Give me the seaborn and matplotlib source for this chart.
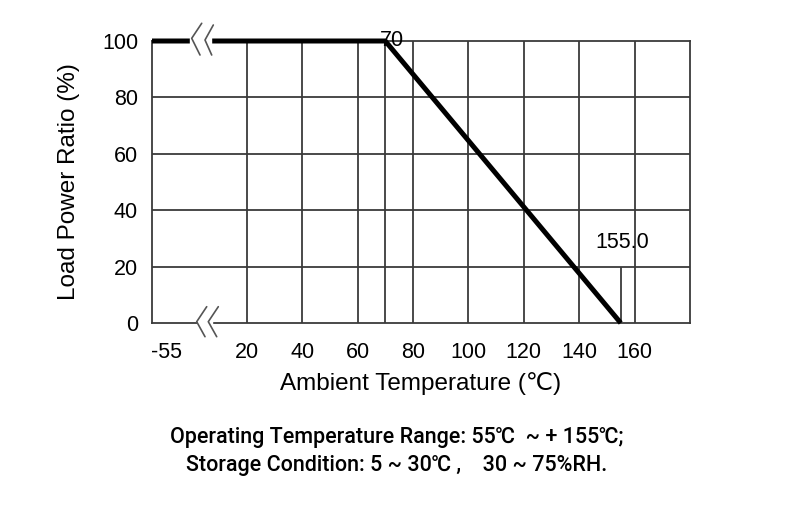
import numpy as np
import pandas as pd
import matplotlib.pyplot as plt
import matplotlib.transforms as mtransforms
import seaborn as sns
from matplotlib.lines import Line2D
from matplotlib.patches import Rectangle

# derating curve
temps = [-55, 70, 155]
ratio = [100, 100, 0]
x_ticks = [20, 40, 60, 80, 100, 120, 140, 160]
x_grid = [20, 40, 60, 70, 80, 100, 120, 140, 160]
y_ticks = [0, 20, 40, 60, 80, 100]
note_lines = ["Operating Temperature Range: 55\u2103  ~ + 155\u2103;",
              "Storage Condition: 5 ~ 30\u2103 ,    30 ~ 75%RH."]

sns.set_style("white")
plt.rcParams['font.family'] = ['Liberation Sans', 'DejaVu Sans']
plt.rcParams['text.color'] = 'black'
plt.rcParams['axes.labelcolor'] = 'black'

W, H = 794, 520
fig = plt.figure(figsize=(W / 100, H / 100), dpi=100)
ax = fig.add_axes([152 / W, 1 - 323 / H, (690 - 152) / W, (323 - 41) / H])

xmin, xmax = -14.2, 180


def pos(t):
    # broken axis: everything below 20 is squeezed to the left edge
    return t if t >= 20 else xmin


grid_c = '#3a3a3a'
df = pd.DataFrame({'pos': [pos(t) for t in temps], 'ratio': ratio})

for g in x_grid:
    ax.axvline(g, color=grid_c, lw=1.3, zorder=1)
for g in y_ticks[1:-1]:
    ax.axhline(g, color=grid_c, lw=1.3, zorder=1)
ax.vlines(155, 0, 20, color=grid_c, lw=1.3, zorder=1)

sns.lineplot(data=df, x='pos', y='ratio', color='black', lw=3.6, ax=ax,
             zorder=3, clip_on=False, solid_capstyle='butt')

ax.set_xlim(xmin, xmax)
ax.set_ylim(0, 100)
for s in ax.spines.values():
    s.set_color(grid_c)
    s.set_linewidth(1.3)

ax.set_xticks([xmin] + x_ticks)
ax.set_xticklabels(['-55'] + [str(v) for v in x_ticks])
ax.set_yticks(y_ticks)
ax.set_yticklabels([str(v) for v in y_ticks])
ax.tick_params(axis='both', length=0, labelsize=15.5, colors='black')
ax.tick_params(axis='x', pad=14)
ax.tick_params(axis='y', pad=10)
# shift the -55 label right
lab = ax.get_xticklabels()[0]
lab.set_transform(lab.get_transform() + mtransforms.ScaledTranslation(14 / 100, 0, fig.dpi_scale_trans))

ax.set_xlabel('Ambient Temperature (\u2103)', fontsize=17.5, labelpad=6, color='black')
ax.set_ylabel('Load Power Ratio (%)', fontsize=17.5, labelpad=16, color='black')

ax.annotate('70', (70, 100), xytext=(-5, 0), textcoords='offset pixels',
            ha='left', va='center', fontsize=15.5, zorder=4)
ax.annotate('155.0', (155, 28.7), xytext=(2, 0), textcoords='offset pixels',
            ha='center', va='center', fontsize=15.5)


def fx(px, py):
    return px / W, 1 - py / H


# axis break marks
for gap, chevs in [((190, 211, 36, 46), [[(201.7, 23.3), (191.7, 38.3), (200, 55)],
                                          [(213.3, 25), (205, 40), (211.7, 55)]]),
                   ((198, 212, 318, 328), [[(206.7, 306.7), (196.7, 321.7), (205, 336.7)],
                                            [(218.3, 306.7), (208.3, 321.7), (216.7, 336.7)]])]:
    x0, x1, y0, y1 = gap
    fig.add_artist(Rectangle(fx(x0, y1), (x1 - x0) / W, (y1 - y0) / H,
                             transform=fig.transFigure, color='white', zorder=10))
    for c in chevs:
        xs, ys = zip(*[fx(a, b) for a, b in c])
        fig.add_artist(Line2D(xs, ys, transform=fig.transFigure, color='#555555',
                              lw=1.2, zorder=11))

fig.text(0.5, 1 - 438 / H, note_lines[0], ha='center', va='center', fontsize=15.5,
         family=['Roboto', 'DejaVu Sans'], weight='medium', color='black')
fig.text(0.5, 1 - 465 / H, note_lines[1], ha='center', va='center', fontsize=15.5,
         family=['Roboto', 'DejaVu Sans'], weight='medium', color='black')

fig.savefig('out.png', dpi=100)
